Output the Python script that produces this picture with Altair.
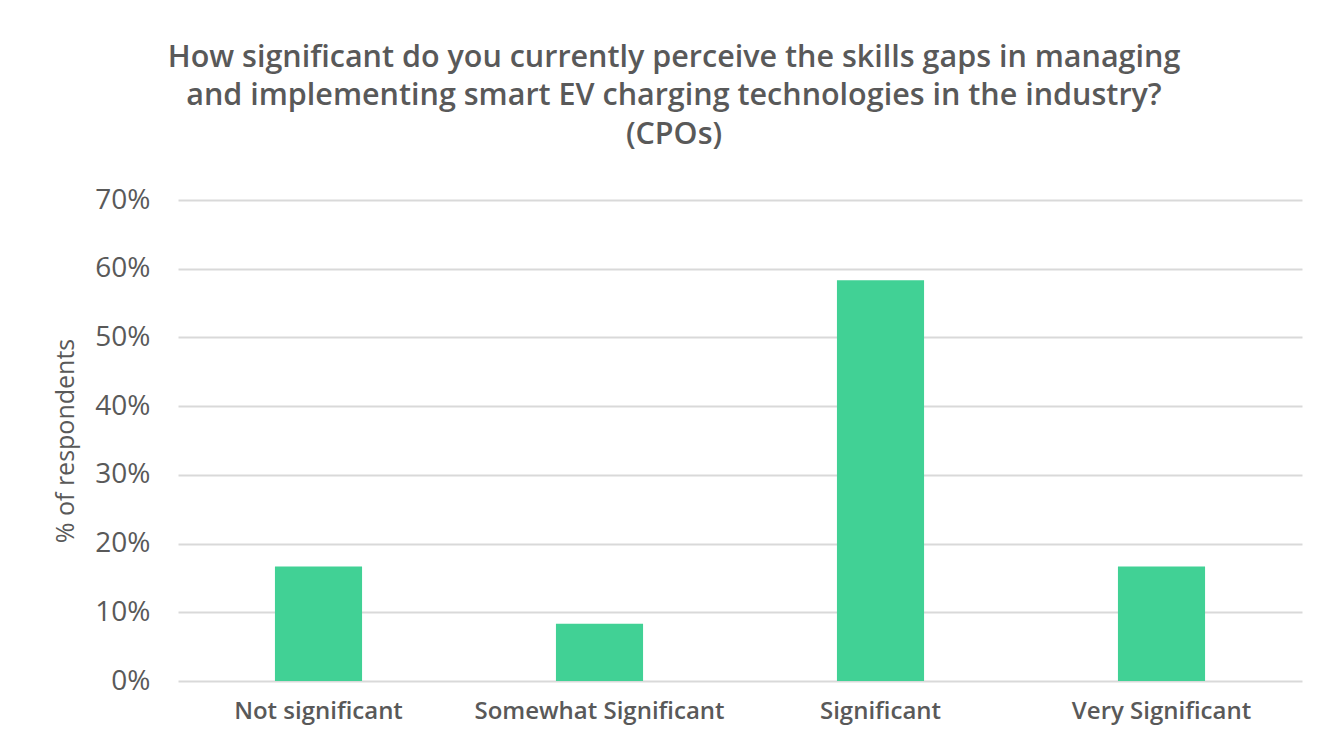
import altair as alt
import pandas as pd

categories = ["Not significant", "Somewhat Significant", "Significant", "Very Significant"]
values = [0.1667, 0.0833, 0.5833, 0.1667]

df = pd.DataFrame({"category": categories, "value": values})

FONT = "Open Sans"
GRAY = "#595959"

chart = alt.Chart(df).mark_bar(color="#41D195").encode(
    x=alt.X("category:N", sort=categories, title=None,
            scale=alt.Scale(paddingInner=0.69, paddingOuter=0.345),
            axis=alt.Axis(labelAngle=0, labelFontSize=24, labelColor=GRAY, labelFont=FONT,
                          labelFontWeight=600, labelLimit=0,
                          labelPadding=18, ticks=False, domain=False)),
    y=alt.Y("value:Q", title="% of respondents",
            scale=alt.Scale(domain=[0, 0.7]),
            axis=alt.Axis(format=".0%", values=[0, 0.1, 0.2, 0.3, 0.4, 0.5, 0.6, 0.7],
                          labelFontSize=28, labelColor=GRAY, labelFont=FONT,
                          labelFontWeight=500,
                          labelPadding=28, ticks=False, domain=False,
                          gridColor="#d9d9d9", gridWidth=2,
                          titleFontSize=25, titleFont=FONT, titleColor=GRAY,
                          titleFontWeight=500, titlePadding=16)),
).properties(
    width=1124,
    height=481,
    title=alt.TitleParams(
        ["How significant do you currently perceive the skills gaps in managing",
         "and implementing smart EV charging technologies in the industry?",
         "(CPOs)"],
        fontSize=30.5, font=FONT, color=GRAY, fontWeight=600,
        anchor="middle", dx=-66, offset=36, lineHeight=38.5,
    ),
    autosize=alt.AutoSizeParams(type="none"),
    padding={"left": 170, "top": 192, "right": 30, "bottom": 60},
).configure(background="white").configure_view(strokeWidth=0, stroke="transparent")

chart.save("out.html", embed_options={"renderer": "svg", "actions": False})
